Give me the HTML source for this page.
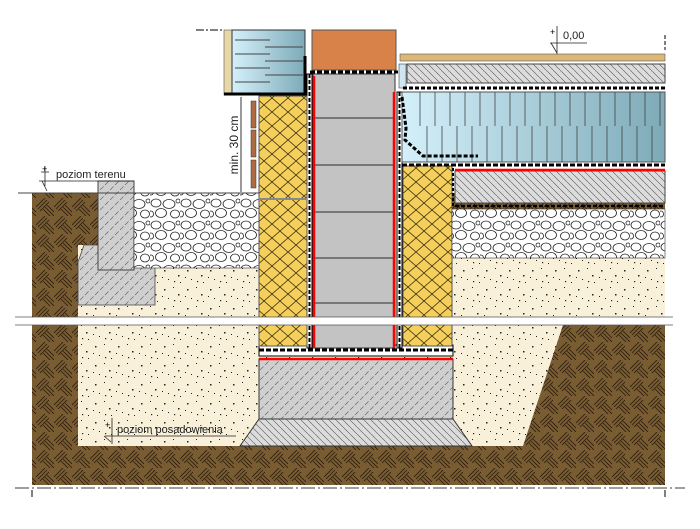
<!DOCTYPE html>
<html><head><meta charset="utf-8"><style>
html,body{margin:0;padding:0;background:#fff;width:700px;height:529px;overflow:hidden}
svg{display:block}
text{font-family:"Liberation Sans",sans-serif}
</style></head><body>
<svg width="700" height="529" viewBox="0 0 700 529" xmlns="http://www.w3.org/2000/svg">
<defs>
<pattern id="soil" width="18" height="18" patternUnits="userSpaceOnUse">
<rect width="18" height="18" fill="#7a5c33"/>
<path d="M0 9 L9 0 M2 11 L11 2 M4 13 L13 4 M9 9 L18 18 M7 11 L14 18 M11 7 L18 14" stroke="#2a1a08" stroke-width="0.8" fill="none"/>
</pattern>
<pattern id="sand" width="23" height="19" patternUnits="userSpaceOnUse">
<rect width="23" height="19" fill="#f8f0d8"/>
<g fill="#222"><rect x="3" y="4" width="1.5" height="1.5"/><rect x="12" y="2" width="1" height="1"/><rect x="17" y="9" width="1.5" height="1.5"/><rect x="7" y="13" width="1" height="1"/><rect x="19" y="16" width="1" height="1"/><rect x="1" y="11" width="1" height="1"/><rect x="13" y="15" width="1.2" height="1.2"/></g>
</pattern>
<pattern id="ins" width="16" height="14" patternUnits="userSpaceOnUse">
<rect width="16" height="14" fill="#f4cf5c"/>
<path d="M0 0 L16 14 M16 0 L0 14" stroke="#3a2f10" stroke-width="0.8"/>
</pattern>
<pattern id="hatch" width="10" height="10" patternUnits="userSpaceOnUse">
<rect width="10" height="10" fill="#cfcfcf"/>
<path d="M0 10 L10 0" stroke="#555" stroke-width="0.6" stroke-dasharray="5 2"/>
</pattern>
<pattern id="hatch2" width="7" height="7" patternUnits="userSpaceOnUse">
<rect width="7" height="7" fill="#dcdcdc"/>
<path d="M0 0 L7 7" stroke="#555" stroke-width="0.6"/>
</pattern>
<pattern id="grav" width="30" height="22" patternUnits="userSpaceOnUse">
<rect width="30" height="22" fill="#fff"/>
<g fill="#fff" stroke="#222" stroke-width="0.8"><ellipse cx="6" cy="5" rx="5" ry="4"/><ellipse cx="19" cy="6" rx="6" ry="4.5"/><ellipse cx="11" cy="15" rx="5.5" ry="4.5"/><ellipse cx="25" cy="16" rx="4.5" ry="4"/><ellipse cx="1" cy="16" rx="2.5" ry="3"/><ellipse cx="28" cy="3" rx="2" ry="2"/></g>
</pattern>
<linearGradient id="blue" x1="0" x2="1"><stop offset="0" stop-color="#d4f0fa"/><stop offset="1" stop-color="#7eaab8"/></linearGradient>
</defs>

<rect x="32" y="193" width="633" height="292" fill="url(#soil)"/>
<path d="M78 245 L78 446 L523 446 L563 325 L665 325 L665 258 L452 258 L452 193 L259 193 L259 268 L134 268 L134 245 Z" fill="url(#sand)"/>
<path d="M84 245 L150 245 Q155 245 155 252 L155 305 L78 305 L78 262 Z" fill="url(#hatch)" stroke="#444" stroke-width="0.8"/>
<rect x="98" y="181" width="36" height="89" fill="url(#hatch)" stroke="#444" stroke-width="1"/>
<rect x="134" y="193" width="125" height="75" fill="url(#grav)" stroke="#333" stroke-width="0.6"/>
<line x1="18" y1="193" x2="259" y2="193" stroke="#444" stroke-width="1"/>

<rect x="259" y="359" width="194" height="60" fill="url(#hatch)" stroke="#333"/>
<path d="M259 419 L453 419 L472 446 L240 446 Z" fill="url(#hatch2)" stroke="#333"/>
<line x1="259" y1="359" x2="453" y2="359" stroke="#f00" stroke-width="2.5"/>
<rect x="259" y="345" width="194" height="11" fill="#fff" stroke="#000"/>
<line x1="259" y1="350" x2="453" y2="350" stroke="#000" stroke-width="3" stroke-dasharray="5 2"/>

<rect x="313" y="74" width="82" height="274" fill="#c3c3c3" stroke="#333"/>
<g stroke="#777" stroke-width="2"><line x1="313" y1="118" x2="395" y2="118"/><line x1="313" y1="165" x2="395" y2="165"/><line x1="313" y1="212" x2="395" y2="212"/><line x1="313" y1="258" x2="395" y2="258"/><line x1="313" y1="303" x2="395" y2="303"/></g>
<line x1="314" y1="76" x2="314" y2="348" stroke="#f00" stroke-width="2.5"/>
<line x1="394" y1="92" x2="394" y2="348" stroke="#f00" stroke-width="2.5"/>
<rect x="307" y="74" width="5" height="274" fill="#fff" stroke="#000"/>
<line x1="309.5" y1="74" x2="309.5" y2="348" stroke="#000" stroke-dasharray="4 2" stroke-width="2"/>
<rect x="397" y="92" width="5" height="256" fill="#fff" stroke="#000"/>
<line x1="399.5" y1="92" x2="399.5" y2="348" stroke="#000" stroke-dasharray="4 2" stroke-width="2"/>
<rect x="312" y="30" width="84" height="40" fill="#d8824a" stroke="#555"/>
<line x1="310" y1="72" x2="398" y2="72" stroke="#000" stroke-width="3" stroke-dasharray="5 2"/>

<rect x="259" y="96" width="48" height="250" fill="url(#ins)" stroke="#555"/>
<line x1="259" y1="199" x2="307" y2="199" stroke="#888" stroke-width="2"/>
<rect x="403" y="166" width="49" height="180" fill="url(#ins)" stroke="#555"/>

<rect x="224" y="30" width="8" height="65" fill="#e8d8a8" stroke="#555" stroke-width="0.6"/>
<rect x="232" y="30" width="73" height="64" fill="url(#blue)" stroke="#333"/>
<g stroke="#444" stroke-width="1"><line x1="235" y1="40" x2="270" y2="40"/><line x1="265" y1="47" x2="303" y2="47"/><line x1="235" y1="54" x2="270" y2="54"/><line x1="265" y1="61" x2="303" y2="61"/><line x1="235" y1="68" x2="270" y2="68"/><line x1="265" y1="75" x2="303" y2="75"/><line x1="235" y1="82" x2="270" y2="82"/></g>
<line x1="224" y1="94" x2="307" y2="94" stroke="#000" stroke-width="3"/>
<line x1="305" y1="56" x2="305" y2="94" stroke="#000" stroke-width="3"/>
<line x1="196" y1="30" x2="223" y2="30" stroke="#000" stroke-dasharray="8 2 2 2"/>

<line x1="241" y1="97" x2="241" y2="192" stroke="#000" stroke-width="0.8"/>
<text transform="translate(238,145) rotate(-90)" font-size="12" text-anchor="middle" fill="#222">min. 30 cm</text>
<g fill="#b06a40" stroke="#333" stroke-width="0.5"><rect x="251" y="101" width="5" height="27"/><rect x="251" y="130" width="5" height="27"/><rect x="251" y="160" width="5" height="28"/></g>

<rect x="400" y="54" width="265" height="7" fill="#dcb878" stroke="#555" stroke-width="0.6"/>
<rect x="407" y="64" width="258" height="19" fill="url(#hatch2)" stroke="#444"/>
<rect x="399" y="64" width="7" height="24" fill="#cde6f0" stroke="#444" stroke-width="0.6"/>
<line x1="403" y1="88" x2="665" y2="88" stroke="#000" stroke-width="3" stroke-dasharray="4 2"/>
<rect x="402" y="92" width="263" height="70" fill="url(#blue)" stroke="#555"/>
<g stroke="#444" stroke-width="0.8">
<path d="M420 92v34 M435 92v34 M450 92v34 M465 92v34 M480 92v34 M495 92v34 M510 92v34 M525 92v34 M540 92v34 M555 92v34 M570 92v34 M585 92v34 M600 92v34 M615 92v34 M630 92v34 M645 92v34 M660 92v34"/>
<path d="M427 126v36 M442 126v36 M457 126v36 M472 126v36 M487 126v36 M502 126v36 M517 126v36 M532 126v36 M547 126v36 M562 126v36 M577 126v36 M592 126v36 M607 126v36 M622 126v36 M637 126v36 M652 126v36"/>
</g>
<path d="M402 97 L406 128 L405 140 L423 156 L478 156" fill="none" stroke="#000" stroke-width="3" stroke-dasharray="4 2"/>
<line x1="402" y1="165" x2="665" y2="165" stroke="#000" stroke-width="3" stroke-dasharray="5 2"/>
<rect x="455" y="171" width="210" height="32" fill="url(#hatch2)" stroke="#444"/>
<line x1="455" y1="170" x2="665" y2="170" stroke="#f00" stroke-width="2.5"/>
<line x1="453" y1="168" x2="453" y2="206" stroke="#000" stroke-width="2" stroke-dasharray="3 2"/>
<line x1="455" y1="206" x2="665" y2="206" stroke="#000" stroke-width="2.5" stroke-dasharray="4 2"/>
<rect x="452" y="209" width="213" height="49" fill="url(#grav)" stroke="#333" stroke-width="0.6"/>

<rect x="15" y="317" width="658" height="8" fill="#fff"/>
<line x1="15" y1="317" x2="673" y2="317" stroke="#555" stroke-width="0.8"/>
<line x1="15" y1="325" x2="673" y2="325" stroke="#555" stroke-width="0.8"/>

<line x1="15" y1="488" x2="685" y2="488" stroke="#000" stroke-dasharray="14 3 2 3" stroke-width="0.8"/>
<line x1="32" y1="490" x2="32" y2="497" stroke="#000"/>
<line x1="665" y1="490" x2="665" y2="497" stroke="#000"/>
<line x1="665" y1="35" x2="665" y2="50" stroke="#000" stroke-dasharray="4 2"/>

<text x="56" y="178" font-size="11" fill="#222">poziom terenu</text>
<path d="M45 166 v20 M41 172 h8 M39 181 h95 M42 181 l5 10" stroke="#222" fill="none" stroke-width="0.8"/>
<text x="42" y="172" font-size="9">+</text>
<text x="563" y="39" font-size="11" fill="#222">0,00</text>
<path d="M557 26 v28 M550 43 h37 M551 43 l6 10" stroke="#222" fill="none" stroke-width="0.8"/>
<text x="550" y="35" font-size="9">+</text>
<text x="117" y="433" font-size="11" fill="#222">poziom posadowienia</text>
<path d="M112 418 v26 M105 436 h131 M104 436 l7 6" stroke="#222" fill="none" stroke-width="0.8"/>
<text x="105" y="428" font-size="9">+</text>
</svg>
</body></html>
